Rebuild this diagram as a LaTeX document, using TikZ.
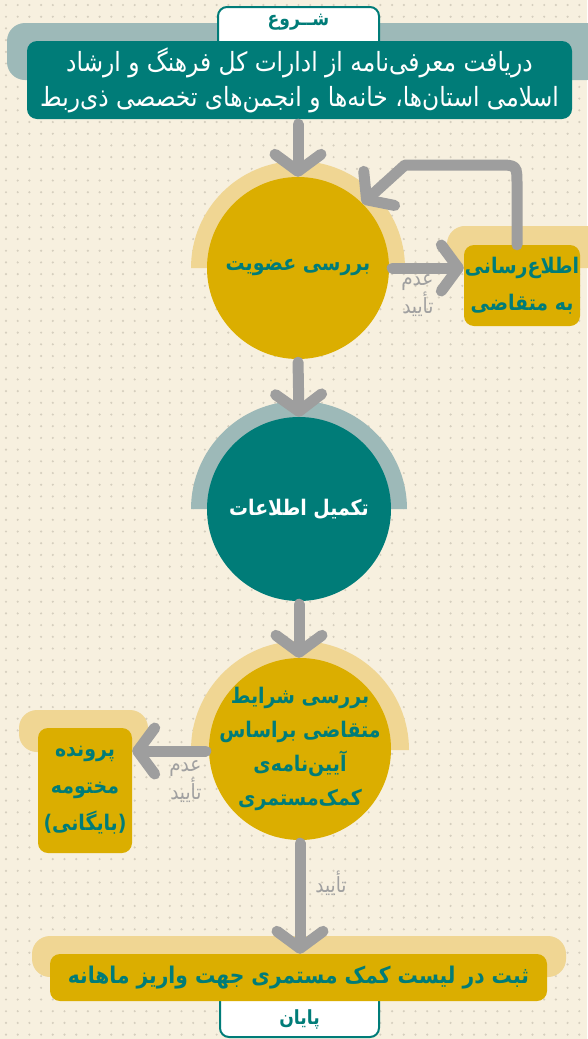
\documentclass[tikz,border=0pt]{standalone}
\usepackage{fontspec}
\usetikzlibrary{arrows.meta,calc}
\TeXXeTstate=1
\newfontfamily\farsi[Script=Arabic,FakeStretch=0.88]{DejaVu Sans}
\newcommand{\fatext}[1]{\beginR #1\endR}
\definecolor{bgc}{HTML}{F7F0DF}
\definecolor{dotc}{HTML}{D5CEBE}
\definecolor{tealc}{HTML}{007C78}
\definecolor{bandc}{HTML}{9DB9B8}
\definecolor{mustard}{HTML}{DBAE00}
\definecolor{haloc}{HTML}{F0D693}
\definecolor{arrc}{HTML}{9E9E9E}
\definecolor{labc}{HTML}{A0A0A0}
\tikzset{
  flow/.style={draw=arrc, line width=11pt, line cap=round, line join=round,
    -{Straight Barb[length=17pt, width=46pt, round]}},
  yellowdisc/.style={circle, fill=mustard, minimum size=182pt, inner sep=0pt,
    text=tealc, font=\farsi\bfseries\fontsize{21.5}{34}\selectfont, align=center},
  tealdisc/.style={circle, fill=tealc, minimum size=184pt, inner sep=0pt,
    text=white, font=\farsi\bfseries\fontsize{21.5}{33}\selectfont, align=center},
  ybox/.style={rectangle, rounded corners=10pt, fill=mustard, inner sep=0pt,
    text=tealc, font=\farsi\bfseries\fontsize{21.5}{37}\selectfont, align=center},
  tabbox/.style={rectangle, rounded corners=9pt, fill=white, draw=tealc, line width=2pt,
    inner sep=0pt},
  tabtext/.style={text=tealc, font=\farsi\bfseries\fontsize{19.5}{22}\selectfont},
  lab/.style={text=labc, font=\farsi\fontsize{21}{23}\selectfont, align=right},
  dotrow/.style={dotc, line width=2.4pt, line cap=round, dash pattern=on 0pt off 11.7pt}
}
\begin{document}
\begin{tikzpicture}[x=1pt,y=-1pt]
\useasboundingbox (0,0) rectangle (587,1039);
\fill[bgc] (0,0) rectangle (587,1039);
\foreach \j in {0,...,89}{\draw[dotrow] (6,5+\j*11.7) -- (592,5+\j*11.7);}
% top band and start tab
\fill[bandc, rounded corners=18pt] (7,80) -- (7,23) -- (605,23) -- (605,80) -- cycle;
\node[tabbox, minimum width=161pt, minimum height=50pt] (start) at (298.5,32) {};
\node[tabtext] (starttxt) at (298.5,22) {\fatext{شــروع}};
\node[rectangle, rounded corners=10pt, fill=tealc, minimum width=545pt, minimum height=78pt,
  inner sep=0pt, text=white, align=center, font=\farsi\fontsize{26.5}{35}\selectfont]
  (receive) at (299.5,80) {\fatext{دریافت معرفی‌نامه از ادارات کل فرهنگ و ارشاد}\\\fatext{اسلامی استان‌ها، خانه‌ها و انجمن‌های تخصصی ذی‌ربط}};
% halos
\fill[haloc] (191,268) arc[start angle=180, end angle=0, radius=107pt] -- cycle;
\fill[haloc, rounded corners=18pt] (447,268) -- (447,226) -- (610,226) -- (610,268) -- cycle;
\fill[bandc] (191,509) arc[start angle=180, end angle=0, radius=108pt] -- cycle;
\fill[haloc] (191,750) arc[start angle=180, end angle=0, radius=109pt] -- cycle;
\fill[haloc, rounded corners=18pt] (19,752) -- (19,710) -- (148,710) -- (148,752) -- cycle;
\fill[haloc, rounded corners=18pt] (32,977) -- (32,936) -- (566,936) -- (566,977) -- cycle;
% nodes
\node[yellowdisc] (member) at (298,268) {\fatext{بررسی عضویت}};
\node[ybox, minimum width=116pt, minimum height=81pt] (notify) at (522,285.5)
  {\fatext{اطلاع‌رسانی}\\\fatext{به متقاضی}};
\node[tealdisc] (complete) at (299,509) {\fatext{تکمیل اطلاعات}};
\node[yellowdisc, inner sep=-18pt] (check) at (300,749)
  {\fatext{بررسی شرایط}\\\fatext{متقاضی براساس}\\\fatext{آیین‌نامه‌ی}\\\fatext{کمک‌مستمری}};
\node[ybox, minimum width=94pt, minimum height=125pt] (archive) at (85,790.5)
  {\fatext{پرونده}\\\fatext{مختومه}\\\fatext{(بایگانی)}};
\node[tabbox, minimum width=159pt, minimum height=50pt] (endtab) at (299.5,1012) {};
\node[ybox, minimum width=497pt, minimum height=47pt, font=\farsi\bfseries\fontsize{23}{26}\selectfont] (register) at (298.5,977.5)
  {\fatext{ثبت در لیست کمک مستمری جهت واریز ماهانه}};
\node[tabtext] (endtxt) at (299.5,1019) {\fatext{پایان}};
% connectors
\draw[flow, shorten <=5pt] (receive.south -| member.north) -- (member.north);
\draw[flow, shorten <=3pt] (member.east) -- (member.east -| notify.west);
\coordinate (up) at ([xshift=-5pt]notify.north);
\coordinate (bend) at (405,165);
\draw[flow] (up) -- ($(up |- bend)+(0,20)$) .. controls (up |- bend) .. ($(up |- bend)+(-20,0)$) -- (bend) -- (member.45);
\draw[flow, shorten <=3pt] (member.south) -- (complete.north);
\draw[flow, shorten <=3pt] (complete.south) -- (check.north -| complete.south);
\draw[flow, shorten <=3pt] (check.west |- 0,751) -- (archive.east |- 0,751);
\draw[flow, shorten <=3pt] (check.south) -- (check.south |- register.north);
% labels
\node[lab, anchor=north east] (lab1) at (437,271) {\fatext{عدم}\\\fatext{تأیید}};
\node[lab, anchor=north east] (lab2) at (205,757) {\fatext{عدم}\\\fatext{تأیید}};
\node[lab] (lab3) at (331,883) {\fatext{تأیید}};
\end{tikzpicture}
\end{document}
